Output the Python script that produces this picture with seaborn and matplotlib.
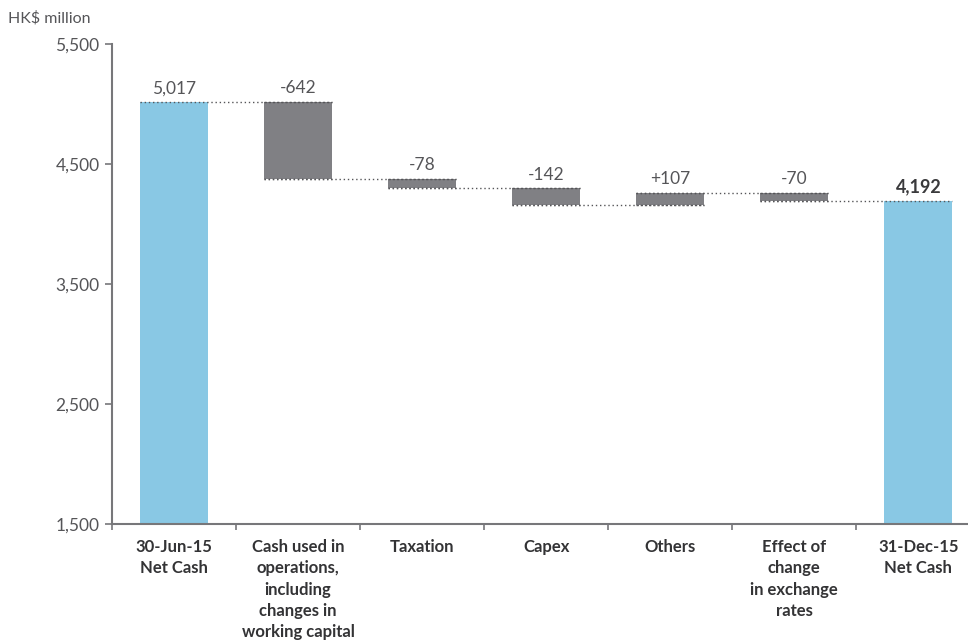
import matplotlib
matplotlib.use("Agg")
import matplotlib.pyplot as plt
import seaborn as sns
import pandas as pd
import numpy as np

categories = ["30-Jun-15\nNet Cash",
              "Cash used in\noperations,\nincluding\nchanges in\nworking capital",
              "Taxation", "Capex", "Others",
              "Effect of\nchange\nin exchange\nrates",
              "31-Dec-15\nNet Cash"]
values = [5017, -642, -78, -142, 107, -70, 4192]
value_labels = ["5,017", "-642", "-78", "-142", "+107", "-70", "4,192"]
is_total = [True, False, False, False, False, False, True]
y_ticks = [1500, 2500, 3500, 4500, 5500]

BLUE = "#89C8E4"
GREY = "#808084"
TXT = "#555558"

# waterfall geometry derived from values
tops, bottoms, levels = [], [], []
run = 0
for v, tot in zip(values, is_total):
    if tot:
        tops.append(v); bottoms.append(0); run = v
    else:
        new = run + v
        tops.append(max(run, new)); bottoms.append(min(run, new)); run = new
    levels.append(run)

df = pd.DataFrame({"cat": categories, "top": tops, "bottom": bottoms})
colors = [BLUE if t else GREY for t in is_total]

sns.set_theme(style="white")
plt.rcParams["font.family"] = ["Lato", "DejaVu Sans"]

fig = plt.figure(figsize=(9.68, 6.43), dpi=100)
ax = fig.add_axes([112/968, 119/643, (968-112)/968, (524-44)/643])

W = 0.55
sns.barplot(data=df, x="cat", y="top", hue="cat", palette=colors, legend=False,
            width=W, linewidth=0, saturation=1, ax=ax, order=categories)
sns.barplot(data=df, x="cat", y="bottom", color="white", width=W + 0.01,
            linewidth=0, saturation=1, ax=ax, order=categories)

# dotted connectors
for k in range(len(values) - 1):
    ax.plot([k - W/2, k + 1 + W/2], [levels[k], levels[k]], color="#555558",
            lw=1.0, ls=(0, (1, 2)), zorder=3)
# dotted edges for floating bars
for k in range(1, len(values) - 1):
    ax.plot([k - W/2, k + W/2], [bottoms[k], bottoms[k]], color="#555558",
            lw=1.0, ls=(0, (1, 2)), zorder=3)
    ax.plot([k - W/2, k + W/2], [tops[k], tops[k]], color="#555558",
            lw=1.0, ls=(0, (1, 2)), zorder=3)

for k, lab in enumerate(value_labels):
    bold = k == len(values) - 1
    ax.annotate(lab, (k, tops[k]), xytext=(0, 4), textcoords="offset points",
                ha="center", va="bottom", fontsize=13 if bold else 12.5,
                fontweight="bold" if bold else "normal",
                color="#3a3a3c" if bold else TXT)

ax.set_ylim(1500, 5500)
ax.set_xlim(-0.5, 6.4)
ax.set_yticks(y_ticks)
ax.set_yticklabels([f"{t:,}" for t in y_ticks], fontsize=12.5, color=TXT)
ax.set_xticks(range(len(categories)))
ax.set_xticklabels(categories, fontsize=12, fontweight="bold", color="#333335",
                   linespacing=1.4, va="top")
ax.set_xticks(np.arange(-0.5, 6.0, 1.0), minor=True)
ax.tick_params(axis="x", which="major", length=0, pad=11)
ax.tick_params(axis="x", which="minor", length=4, width=1.2, color="#77777a",
               direction="out", bottom=True)
ax.tick_params(axis="y", length=5, width=1.2, color="#77777a", direction="out",
               left=True, pad=4)
ax.set_xlabel("")
ax.set_ylabel("")

for s in ["top", "right"]:
    ax.spines[s].set_visible(False)
for s in ["left", "bottom"]:
    ax.spines[s].set_color("#77777a")
    ax.spines[s].set_linewidth(1.5)

fig.text(8/968, 1 - 18/643, "HK$ million", fontsize=11.5, color=TXT,
         ha="left", va="center")

fig.savefig("out.png", dpi=100)
